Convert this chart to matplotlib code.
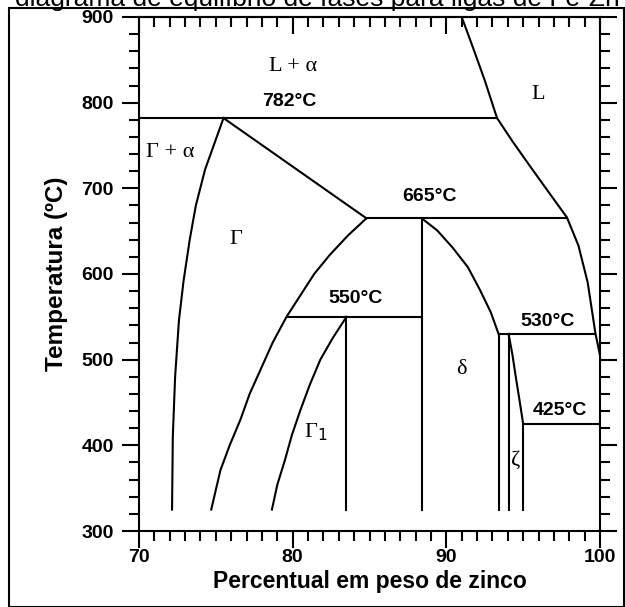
import numpy as np
import matplotlib.pyplot as plt
from matplotlib.ticker import MultipleLocator
from matplotlib.patches import Rectangle

# fronteiras de fase (wt% Zn, temperatura em C)
liq_x = [91.0, 91.7, 92.5, 93.3, 94.3, 95.4, 96.6, 97.85, 98.6, 99.2, 99.7, 100.0]
liq_t = [900, 866, 826, 782, 755, 727, 697, 666, 633, 590, 531, 505]

gam_alpha_x = [75.5, 74.9, 74.3, 73.7, 73.3, 72.9, 72.6, 72.35, 72.2, 72.15]
gam_alpha_t = [782, 752, 722, 680, 640, 592, 546, 480, 410, 325]

gam_right_x = [84.8, 83.6, 82.4, 81.4, 80.5, 79.6, 78.7, 77.9, 77.2, 76.6, 75.9, 75.3, 74.7]
gam_right_t = [665, 645, 622, 600, 575, 550, 520, 488, 460, 430, 400, 371, 325]

gam1_x = [83.5, 82.6, 81.8, 81.1, 80.5, 79.95, 79.5, 79.0, 78.65]
gam1_t = [550, 525, 500, 470, 441, 412, 383, 354, 325]

delta_x = [88.4, 89.4, 90.4, 91.4, 92.2, 92.9, 93.4]
delta_t = [665, 651, 631, 608, 581, 555, 530]

zeta_x = [94.05, 94.3, 94.5, 94.75, 95.0]
zeta_t = [530, 506, 482, 454, 425]

# isotermas: (temperatura, x inicial, x final)
isotherms = [(782, 70.0, 93.3), (665, 84.8, 97.85), (550, 79.6, 88.4),
             (530, 93.4, 99.7), (425, 95.0, 100.0)]
# linhas verticais: (x, temperatura superior)
verticals = [(83.5, 550), (88.4, 665), (93.4, 530), (94.05, 530), (95.0, 425)]
t_bottom = 325

temp_labels = ['782°C', '665°C', '550°C', '530°C', '425°C']
temp_pos = [(79.8, 801), (88.9, 690), (84.1, 571), (96.6, 545), (97.4, 441)]

phase_labels = ['L + α', 'L', 'Γ + α', 'Γ', 'δ', 'Γ$_1$', 'ζ']
phase_pos = [(80.0, 842), (96.0, 810), (72.0, 742), (76.3, 640),
             (91.0, 488), (81.5, 415), (94.5, 383)]

plt.rcParams['font.family'] = ['Liberation Sans', 'DejaVu Sans']
fig = plt.figure(figsize=(6.25, 6.07), dpi=100)
ax = fig.add_axes([0.2224, 0.1252, 0.7376, 0.8468])

lw = 1.5
ax.plot(liq_x, liq_t, color='black', lw=lw)
ax.plot(gam_alpha_x, gam_alpha_t, color='black', lw=lw)
ax.plot(gam_right_x, gam_right_t, color='black', lw=lw)
ax.plot(gam1_x, gam1_t, color='black', lw=lw)
ax.plot(delta_x, delta_t, color='black', lw=lw)
ax.plot(zeta_x, zeta_t, color='black', lw=lw)
ax.plot([gam_alpha_x[0], gam_right_x[0]], [gam_alpha_t[0], gam_right_t[0]], color='black', lw=lw)
for t, x0, x1 in isotherms:
    ax.plot([x0, x1], [t, t], color='black', lw=lw)
for x, t in verticals:
    ax.plot([x, x], [t_bottom, t], color='black', lw=lw)

for s, (x, y) in zip(temp_labels, temp_pos):
    ax.text(x, y, s, ha='center', va='center', fontsize=14, fontweight='bold')
for s, (x, y) in zip(phase_labels, phase_pos):
    ax.text(x, y, s, ha='center', va='center', fontsize=16,
            family=['Liberation Serif', 'DejaVu Serif'])

ax.set_xlim(70, 100)
ax.set_ylim(300, 900)
ax.xaxis.set_major_locator(MultipleLocator(10))
ax.xaxis.set_minor_locator(MultipleLocator(1))
ax.yaxis.set_major_locator(MultipleLocator(100))
ax.yaxis.set_minor_locator(MultipleLocator(20))
ax.tick_params(which='both', right=True, direction='out', width=1.5, labelsize=14)
ax.tick_params(which='major', length=12)
ax.tick_params(which='minor', length=7)
ax.tick_params(axis='y', which='major', pad=6)
ax.tick_params(axis='x', which='major', pad=1)
for lab in ax.get_xticklabels() + ax.get_yticklabels():
    lab.set_fontweight('bold')
for sp in ax.spines.values():
    sp.set_linewidth(1.5)

# marcas do eixo superior voltadas para dentro
top = ax.secondary_xaxis('top')
top.xaxis.set_major_locator(MultipleLocator(10))
top.xaxis.set_minor_locator(MultipleLocator(1))
top.tick_params(which='both', direction='in', width=1.5, labeltop=False)
top.tick_params(which='major', length=12)
top.tick_params(which='minor', length=7)
top.spines['top'].set_linewidth(1.5)

ax.set_xlabel('Percentual em peso de zinco', fontsize=16.5, fontweight='bold', labelpad=3)
ax.set_ylabel('Temperatura (ºC)', fontsize=17.5, fontweight='bold', labelpad=10)

# moldura e legenda superior cortada
fig.patches.append(Rectangle((9 / 625, 0.0), 615 / 625, 1 - 8 / 607, transform=fig.transFigure,
                             fill=False, edgecolor='black', lw=1.5))
fig.text(15 / 625, 1 - 6 / 607, 'diagrama de equilíbrio de fases para ligas de Fe-Zn',
         ha='left', va='baseline', fontsize=19)

fig.savefig('out.png', dpi=100)
